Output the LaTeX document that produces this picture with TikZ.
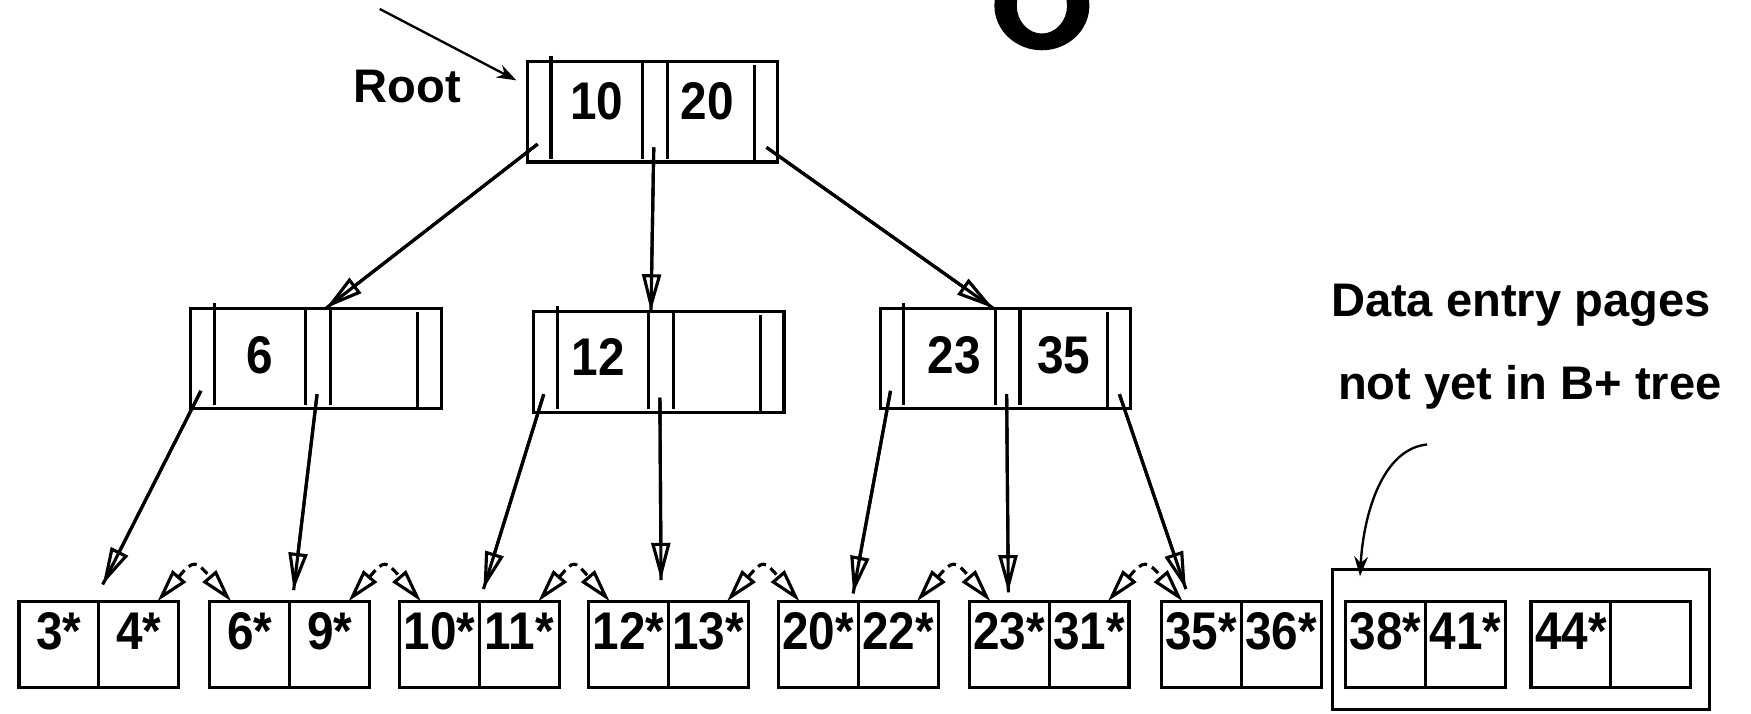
\documentclass[tikz,border=0pt]{standalone}
\usepackage{fontspec}
\setmainfont{Liberation Sans}
\newfontfamily\numfont[FakeStretch=0.9]{Liberation Sans}
\usetikzlibrary{arrows.meta,calc}
\tikzset{
  lw/.style={line width=0.8pt},
  idx/.style={draw, rectangle, lw, minimum width=2.24cm, minimum height=0.9cm, inner sep=0pt, outer sep=0pt},
  leafbox/.style={draw, rectangle, lw, minimum width=1.43cm, minimum height=0.77cm, inner sep=0pt, outer sep=0pt},
  num/.style={font=\numfont\bfseries\fontsize{13.5}{15}\selectfont, inner sep=0pt, anchor=base},
  lbl/.style={font=\bfseries\fontsize{12}{14}\selectfont, inner sep=0pt, anchor=base},
  ptr/.style={lw, -{Triangle[open, length=9.5pt, width=4.8pt]}, preaction={draw, lw, -}},
  sib/.style={lw, dash pattern=on 2.2pt off 1.4pt, {Triangle[open, length=8.5pt, width=4.5pt]}-{Triangle[open, length=8.5pt, width=4.5pt]}},
  note/.style={line width=0.6pt, -{Stealth[length=5pt, width=3.5pt]}},
}
\newcommand\idxparts[1]{%
  \draw[lw] ($(#1.north west)+(21,-5)$) -- ($(#1.south west)+(21,-3)$);
  \draw[lw] ($(#1.north west)+(103,0)$) -- ($(#1.south west)+(103,-3)$);
  \draw[lw] ($(#1.north west)+(125,0)$) -- ($(#1.south west)+(125,-3)$);
  \draw[lw] ($(#1.north west)+(203,3)$) -- ($(#1.south west)+(203,0)$);
  \coordinate (#1-p0) at ($(#1.south west)+(9,-16)$);
  \coordinate (#1-p1) at ($(#1.south west)+(113,-13)$);
  \coordinate (#1-p2) at ($(#1.south west)+(214,-13)$);
}
\newcommand\leafnode[4]{%
  \node[leafbox] (#1) at (#2,577) {};
  \draw[lw] (#1.north) -- (#1.south);
  \node[num] (#1-a) at ($(#1.north west)+(35.75,43)$) {#3};
  \node[num] (#1-b) at ($(#1.north west)+(107.25,43)$) {#4};
}
\newcommand\sibling[2]{%
  \draw[sib] ($(#1.north east)+(-19,0)$) .. controls +(32,-37) and +(-32,-37) .. ($(#2.north west)+(19,0)$);
}
\begin{document}
\begin{tikzpicture}[x=0.01cm, y=-0.01cm]
\useasboundingbox (0,0) rectangle (1568,639);
\begin{scope}
  \clip (0,0) rectangle (1568,639);
  \fill[even odd rule] (933,5) ellipse [x radius=0.425cm, y radius=0.40cm]
                       (933,5) ellipse [x radius=0.225cm, y radius=0.25cm];
\end{scope}

% root
\node[idx] (R) at (584.5,100) {};
\idxparts{R}
\node[num] (R-k1) at ($(R.south west)+(62,-38)$) {10};
\node[num] (R-k2) at ($(R.south west)+(161,-38)$) {20};
\node[lbl] (rootlbl) at (365,92) {Root};
\coordinate (rsrc) at (340,8);
\draw[note] (rsrc) -- ($(R.north west)+(-10,17)$);

% level 2
\node[idx] (N6) at (283,321) {};
\idxparts{N6}
\node[num] (N6-k1) at ($(N6.south west)+(62,-32)$) {6};
\node[idx] (N12) at (590,324) {};
\idxparts{N12}
\node[num] (N12-k1) at ($(N12.south west)+(58,-33)$) {12};
\node[idx] (N23) at (900.5,321) {};
\idxparts{N23}
\node[num] (N23-k1) at ($(N23.south west)+(66,-32)$) {23};
\node[num] (N23-k2) at ($(N23.south west)+(164,-32)$) {35};

\draw[ptr] (R-p0) -- ($(N6.north west)+(121,0)$);
\draw[ptr] (R-p1) -- ($(N12.north west)+(105,0)$);
\draw[ptr] (R-p2) -- ($(N23.north west)+(101,0)$);

% leaves
\leafnode{L1}{88.5}{3*}{4*}
\leafnode{L2}{259.5}{6*}{9*}
\leafnode{L3}{429.5}{10*}{11*}
\leafnode{L4}{598.5}{12*}{13*}
\leafnode{L5}{768.5}{20*}{22*}
\leafnode{L6}{939.5}{23*}{31*}
\leafnode{L7}{1111.5}{35*}{36*}
\node[draw, lw, minimum width=3.38cm, minimum height=1.25cm, inner sep=0pt, outer sep=0pt] (pend) at (1362,572.5) {};
\leafnode{L8}{1276.5}{38*}{41*}
\leafnode{L9}{1442.5}{44*}{}

\draw[ptr] (N6-p0) -- ($(L1.north west)+(75,-15)$);
\draw[ptr] (N6-p1) -- ($(L2.north west)+(75,-10)$);
\draw[ptr] (N12-p0) -- ($(L3.north west)+(75,-11)$);
\draw[ptr] (N12-p1) -- ($(L4.north west)+(65,-19)$);
\draw[ptr] (N23-p0) -- ($(L5.north west)+(67,-7)$);
\draw[ptr] (N23-p1) -- ($(L6.north west)+(35,-8)$);
\draw[ptr] (N23-p2) -- ($(L7.north west)+(22,-11)$);

\sibling{L1}{L2}
\sibling{L2}{L3}
\sibling{L3}{L4}
\sibling{L4}{L5}
\sibling{L5}{L6}
\sibling{L6}{L7}

% note
\node[lbl] (t1) at (1362,283) {Data entry pages};
\node[lbl] (t2) at (1370,358) {not yet in B+ tree};
\coordinate (nstart) at (1278,398);
\draw[note] (nstart) .. controls (1238,402) and (1221,460) .. ($(pend.north west)+(25,6)$);
\end{tikzpicture}
\end{document}
